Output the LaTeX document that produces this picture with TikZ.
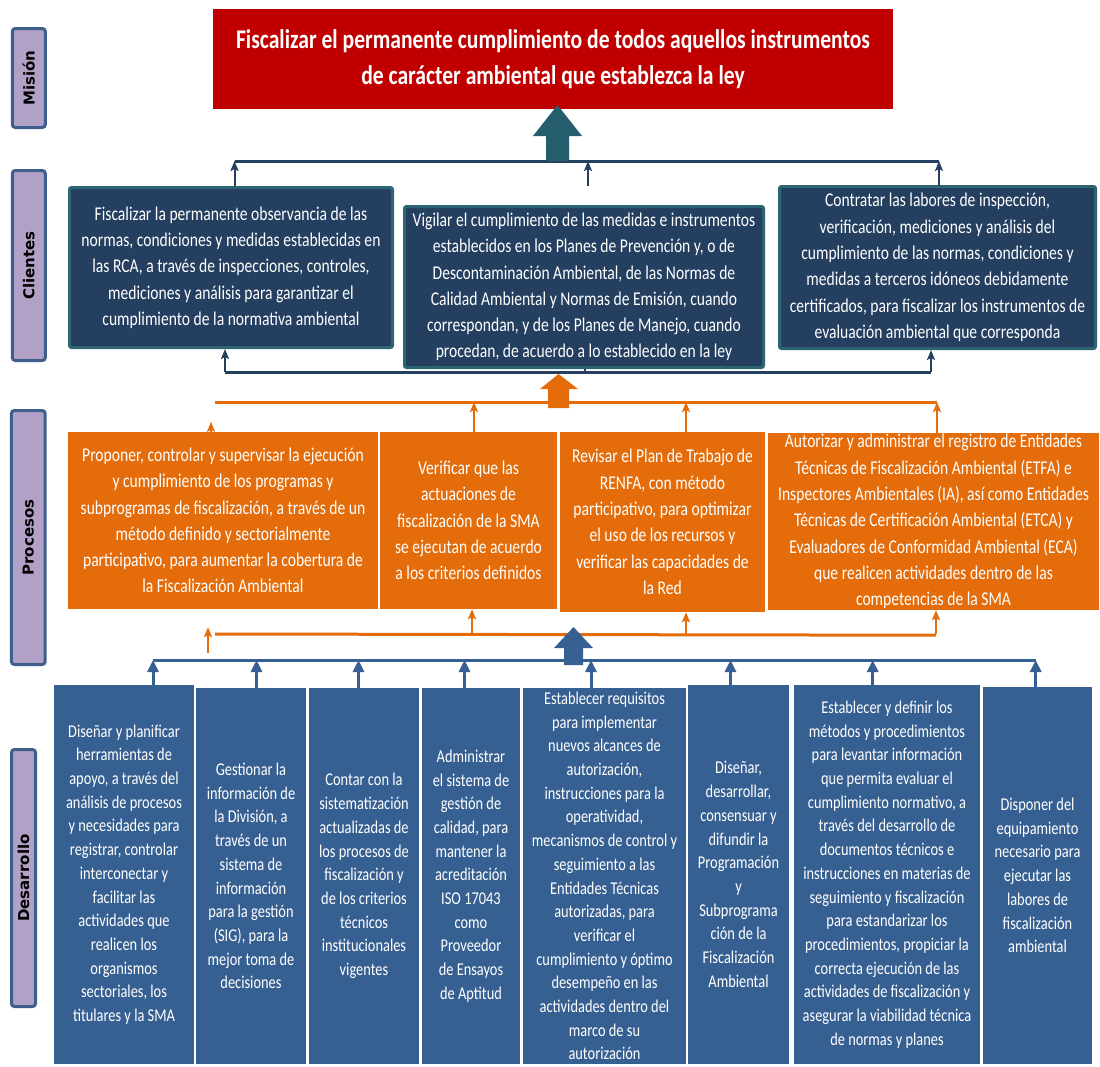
\documentclass[tikz,border=0pt]{standalone}
\usepackage{fontspec}
\usetikzlibrary{arrows.meta,calc}
\newfontfamily\estrecha[FakeStretch=0.80]{Carlito}
\newfontfamily\rotulos{DejaVu Sans}

\begin{document}
\begin{tikzpicture}[x=1pt, y=-1pt,
  caja/.style={align=center, inner sep=0pt, text=white},
  cliente/.style={caja, fill=azulnoche, draw=verdeazul, line width=3pt,
    rounded corners=2pt, font=\estrecha\fontsize{19.5}{26.3}\selectfont},
  proceso/.style={caja, fill=naranja, font=\estrecha\fontsize{19.5}{26.3}\selectfont},
  tarea/.style={caja, fill=azulacero, font=\estrecha\fontsize{18}{23.7}\selectfont},
  rotulo/.style={fill=lila, draw=azulborde, line width=3pt, rounded corners=3pt,
    rotate=90, inner sep=0pt, font=\rotulos\bfseries\fontsize{15}{17}\selectfont},
  lineaC/.style={draw=azulnoche, line width=3pt},
  flechaC/.style={draw=azulnoche, line width=2pt,
    -{Stealth[width=8pt, length=10pt, inset=2pt]}},
  lineaP/.style={draw=naranja, line width=3pt},
  flechaP/.style={draw=naranja, line width=2pt,
    -{Stealth[width=8pt, length=10pt, inset=2pt]}},
  lineaD/.style={draw=azulacero, line width=3pt},
  flechaD/.style={draw=azulacero, line width=3pt,
    -{Triangle[width=11pt, length=12pt]}}]
  \definecolor{rojo}{HTML}{C00000}
  \definecolor{azulnoche}{HTML}{243F60}
  \definecolor{verdeazul}{HTML}{2D6573}
  \definecolor{petroleo}{HTML}{245E6C}
  \definecolor{naranja}{HTML}{E46C0A}
  \definecolor{azulacero}{HTML}{376092}
  \definecolor{lila}{HTML}{B2A1C7}
  \definecolor{azulborde}{HTML}{3E5F8C}
  \useasboundingbox (0,0) rectangle (1100,1066);

  % rotulos de cada nivel
  \node[rotulo, minimum width=99pt, minimum height=33pt] (mision) at (28.8,78) {Misión};
  \node[rotulo, minimum width=190pt, minimum height=33pt] (clientes) at (28.8,265.5) {Clientes};
  \node[rotulo, minimum width=254pt, minimum height=33.7pt] (procesos) at (28.3,537.5) {Procesos};
  \node[rotulo, minimum width=257pt, minimum height=24pt] (desarrollo) at (23.5,878) {Desarrollo};

  % mision
  \node[caja, fill=rojo, minimum width=680pt, minimum height=100pt,
    font=\estrecha\bfseries\fontsize{27}{36}\selectfont] (titulo) at (553,59)
    {Fiscalizar el permanente cumplimiento de todos aquellos instrumentos\\
     de carácter ambiental que establezca la ley};

  % clientes
  \node[cliente, minimum width=323pt, minimum height=160pt] (c1) at (231,267.5)
    {Fiscalizar la permanente observancia de las\\
     normas, condiciones y medidas establecidas en\\
     las RCA, a través de inspecciones, controles,\\
     mediciones y análisis para garantizar el\\
     cumplimiento de la normativa ambiental};
  \node[cliente, minimum width=359pt, minimum height=161pt] (c2) at (584,287)
    {Vigilar el cumplimiento de las medidas e instrumentos\\
     establecidos en los Planes de Prevención y, o de\\
     Descontaminación Ambiental, de las Normas de\\
     Calidad Ambiental y Normas de Emisión, cuando\\
     correspondan, y de los Planes de Manejo, cuando\\
     procedan, de acuerdo a lo establecido en la ley};
  \node[cliente, minimum width=316pt, minimum height=162pt] (c3) at (937.5,267.5)
    {Contratar las labores de inspección,\\
     verificación, mediciones y análisis del\\
     cumplimiento de las normas, condiciones y\\
     medidas a terceros idóneos debidamente\\
     certificados, para fiscalizar los instrumentos de\\
     evaluación ambiental que corresponda};

  % procesos
  \node[proceso, minimum width=310pt, minimum height=177pt] (p1) at (223,520.5)
    {Proponer, controlar y supervisar la ejecución\\
     y cumplimiento de los programas y\\
     subprogramas de fiscalización, a través de un\\
     método definido y sectorialmente\\
     participativo, para aumentar la cobertura de\\
     la Fiscalización Ambiental};
  \node[proceso, minimum width=177pt, minimum height=177pt] (p2) at (468.5,520.5)
    {Verificar que las\\
     actuaciones de\\
     fiscalización de la SMA\\
     se ejecutan de acuerdo\\
     a los criterios definidos};
  \node[proceso, minimum width=205pt, minimum height=180pt] (p3) at (662.5,522)
    {Revisar el Plan de Trabajo de\\
     RENFA, con método\\
     participativo, para optimizar\\
     el uso de los recursos y\\
     verificar las capacidades de\\
     la Red};
  \node[proceso, minimum width=331pt, minimum height=177pt] (p4) at (933.5,521.5)
    {Autorizar y administrar el registro de Entidades\\
     Técnicas de Fiscalización Ambiental (ETFA) e\\
     Inspectores Ambientales (IA), así como Entidades\\
     Técnicas de Certificación Ambiental (ETCA) y\\
     Evaluadores de Conformidad Ambiental (ECA)\\
     que realicen actividades dentro de las\\
     competencias de la SMA};

  % desarrollo
  \node[tarea, minimum width=140pt, minimum height=379pt] (d1) at (124,874.5)
    {Diseñar y planificar\\ herramientas de\\ apoyo, a través del\\
     análisis de procesos\\ y necesidades para\\ registrar, controlar\\
     interconectar y\\ facilitar las\\ actividades que\\ realicen los\\
     organismos\\ sectoriales, los\\ titulares y la SMA};
  \node[tarea, minimum width=110pt, minimum height=376pt] (d2) at (251,876)
    {Gestionar la\\ información de\\ la División, a\\ través de un\\
     sistema de\\ información\\ para la gestión\\ (SIG), para la\\
     mejor toma de\\ decisiones};
  \node[tarea, minimum width=110pt, minimum height=376pt] (d3) at (364,876)
    {Contar con la\\ sistematización\\ actualizadas de\\ los procesos de\\
     fiscalización y\\ de los criterios\\ técnicos\\ institucionales\\ vigentes};
  \node[tarea, minimum width=98pt, minimum height=376pt] (d4) at (471,876)
    {Administrar\\ el sistema de\\ gestión de\\ calidad, para\\
     mantener la\\ acreditación\\ ISO 17043\\ como\\ Proveedor\\
     de Ensayos\\ de Aptitud};
  \node[tarea, minimum width=163pt, minimum height=376pt] (d5) at (604.5,876)
    {Establecer requisitos\\ para implementar\\ nuevos alcances de\\
     autorización,\\ instrucciones para la\\ operatividad,\\
     mecanismos de control y\\ seguimiento a las\\ Entidades Técnicas\\
     autorizadas, para\\ verificar el\\ cumplimiento y óptimo\\
     desempeño en las\\ actividades dentro del\\ marco de su\\ autorización};
  \node[tarea, minimum width=101pt, minimum height=379pt] (d6) at (738.5,874.5)
    {Diseñar,\\ desarrollar,\\ consensuar y\\ difundir la\\ Programación\\
     y\\ Subprograma\\ ción de la\\ Fiscalización\\ Ambiental};
  \node[tarea, minimum width=186pt, minimum height=379pt] (d7) at (887,874.5)
    {Establecer y definir los\\ métodos y procedimientos\\
     para levantar información\\ que permita evaluar el\\
     cumplimiento normativo, a\\ través del desarrollo de\\
     documentos técnicos e\\ instrucciones en materias de\\
     seguimiento y fiscalización\\ para estandarizar los\\
     procedimientos, propiciar la\\ correcta ejecución de las\\
     actividades de fiscalización y\\ asegurar la viabilidad técnica\\
     de normas y planes};
  \node[tarea, minimum width=109pt, minimum height=377pt] (d8) at (1037.5,875.5)
    {Disponer del\\ equipamiento\\ necesario para\\ ejecutar las\\
     labores de\\ fiscalización\\ ambiental};

  % barras de conexion
  \coordinate (busCsup) at (0,161);
  \coordinate (busCinf) at (0,372);
  \coordinate (busPsup) at (0,402);
  \coordinate (busPinf) at (0,634);
  \coordinate (busD) at (0,660);

  % clientes -> mision
  \foreach \caja/\dx in {c1/3.5, c2/4, c3/1.5} {
    \coordinate (sal-\caja) at ($(\caja.north)+(\dx,0)$);
    \draw[flechaC] (sal-\caja |- c1.north) -- (sal-\caja |- busCsup);
  }
  \draw[lineaC] (sal-c1 |- busCsup) -- (sal-c3 |- busCsup);

  % procesos -> clientes
  \coordinate (ent-c1) at ($(c1.south)+(-6,0)$);
  \coordinate (ent-c2) at ($(c2.south)+(1,0)$);
  \coordinate (ent-c3) at ($(c3.south)+(-6.5,0)$);
  \draw[lineaC] (ent-c1 |- busCinf) -- (ent-c3 |- busCinf);
  \draw[flechaC] (ent-c1 |- busCinf) -- (ent-c1);
  \draw[flechaC] (ent-c3 |- busCinf) -- (ent-c3);
  \draw[azulnoche, line width=2pt] (ent-c2 |- busCinf) -- (ent-c2);

  % procesos -> barra superior
  \coordinate (sal-p1) at ($(p1.north)+(-12,0)$);
  \coordinate (ini-p1) at ($(p1.north)+(-8,0)$);
  \draw[flechaP] (sal-p1) -- ++(0,-10); % solo la punta
  \foreach \caja/\dx in {p2/5.5, p3/23.5, p4/3.5} {
    \coordinate (sal-\caja) at ($(\caja.north)+(\dx,0)$);
    \draw[flechaP] (sal-\caja) -- (sal-\caja |- busPsup);
  }
  \draw[lineaP] (ini-p1 |- busPsup) -- (sal-p4 |- busPsup);

  % desarrollo -> procesos
  \coordinate (ent-p1) at ($(p1.south)+(-15,0)$);
  \draw[lineaP] (ini-p1 |- busPinf) -- ($(p4.south)+(2.5,25)$);
  \draw[flechaP] ($(ent-p1)+(0,44)$) -- ($(ent-p1)+(0,18)$);
  \foreach \caja/\dx in {p2/3.5, p3/23.5, p4/2.5} {
    \coordinate (ent-\caja) at ($(\caja.south)+(\dx,0)$);
    \draw[flechaP] (ent-\caja |- busPinf) -- (ent-\caja);
  }

  % desarrollo -> barra
  \foreach \caja/\dx in {d1/29, d2/5.5, d3/-5.5, d4/-6.5, d5/-13.5, d6/-8, d7/-14.3, d8/-1.8} {
    \coordinate (sal-\caja) at ($(\caja.north)+(\dx,0)$);
    \draw[flechaD] (sal-\caja) -- (sal-\caja |- busD);
  }
  \draw[lineaD] (sal-d1 |- busD) -- (sal-d8 |- busD);

  % flechas gruesas entre niveles
  \fill[petroleo] (557.5,105) -- (582,136) -- (569,136) -- (569,161) --
    (546,161) -- (546,136) -- (533,136) -- cycle; % hacia la mision
  \fill[naranja] (558.5,374) -- (578,389) -- (569,389) -- (569,408) --
    (548,408) -- (548,389) -- (540,389) -- cycle; % hacia clientes
  \fill[azulacero] (573.5,627) -- (593,648) -- (583,648) -- (583,665) --
    (564,665) -- (564,648) -- (554,648) -- cycle; % hacia procesos
\end{tikzpicture}
\end{document}
